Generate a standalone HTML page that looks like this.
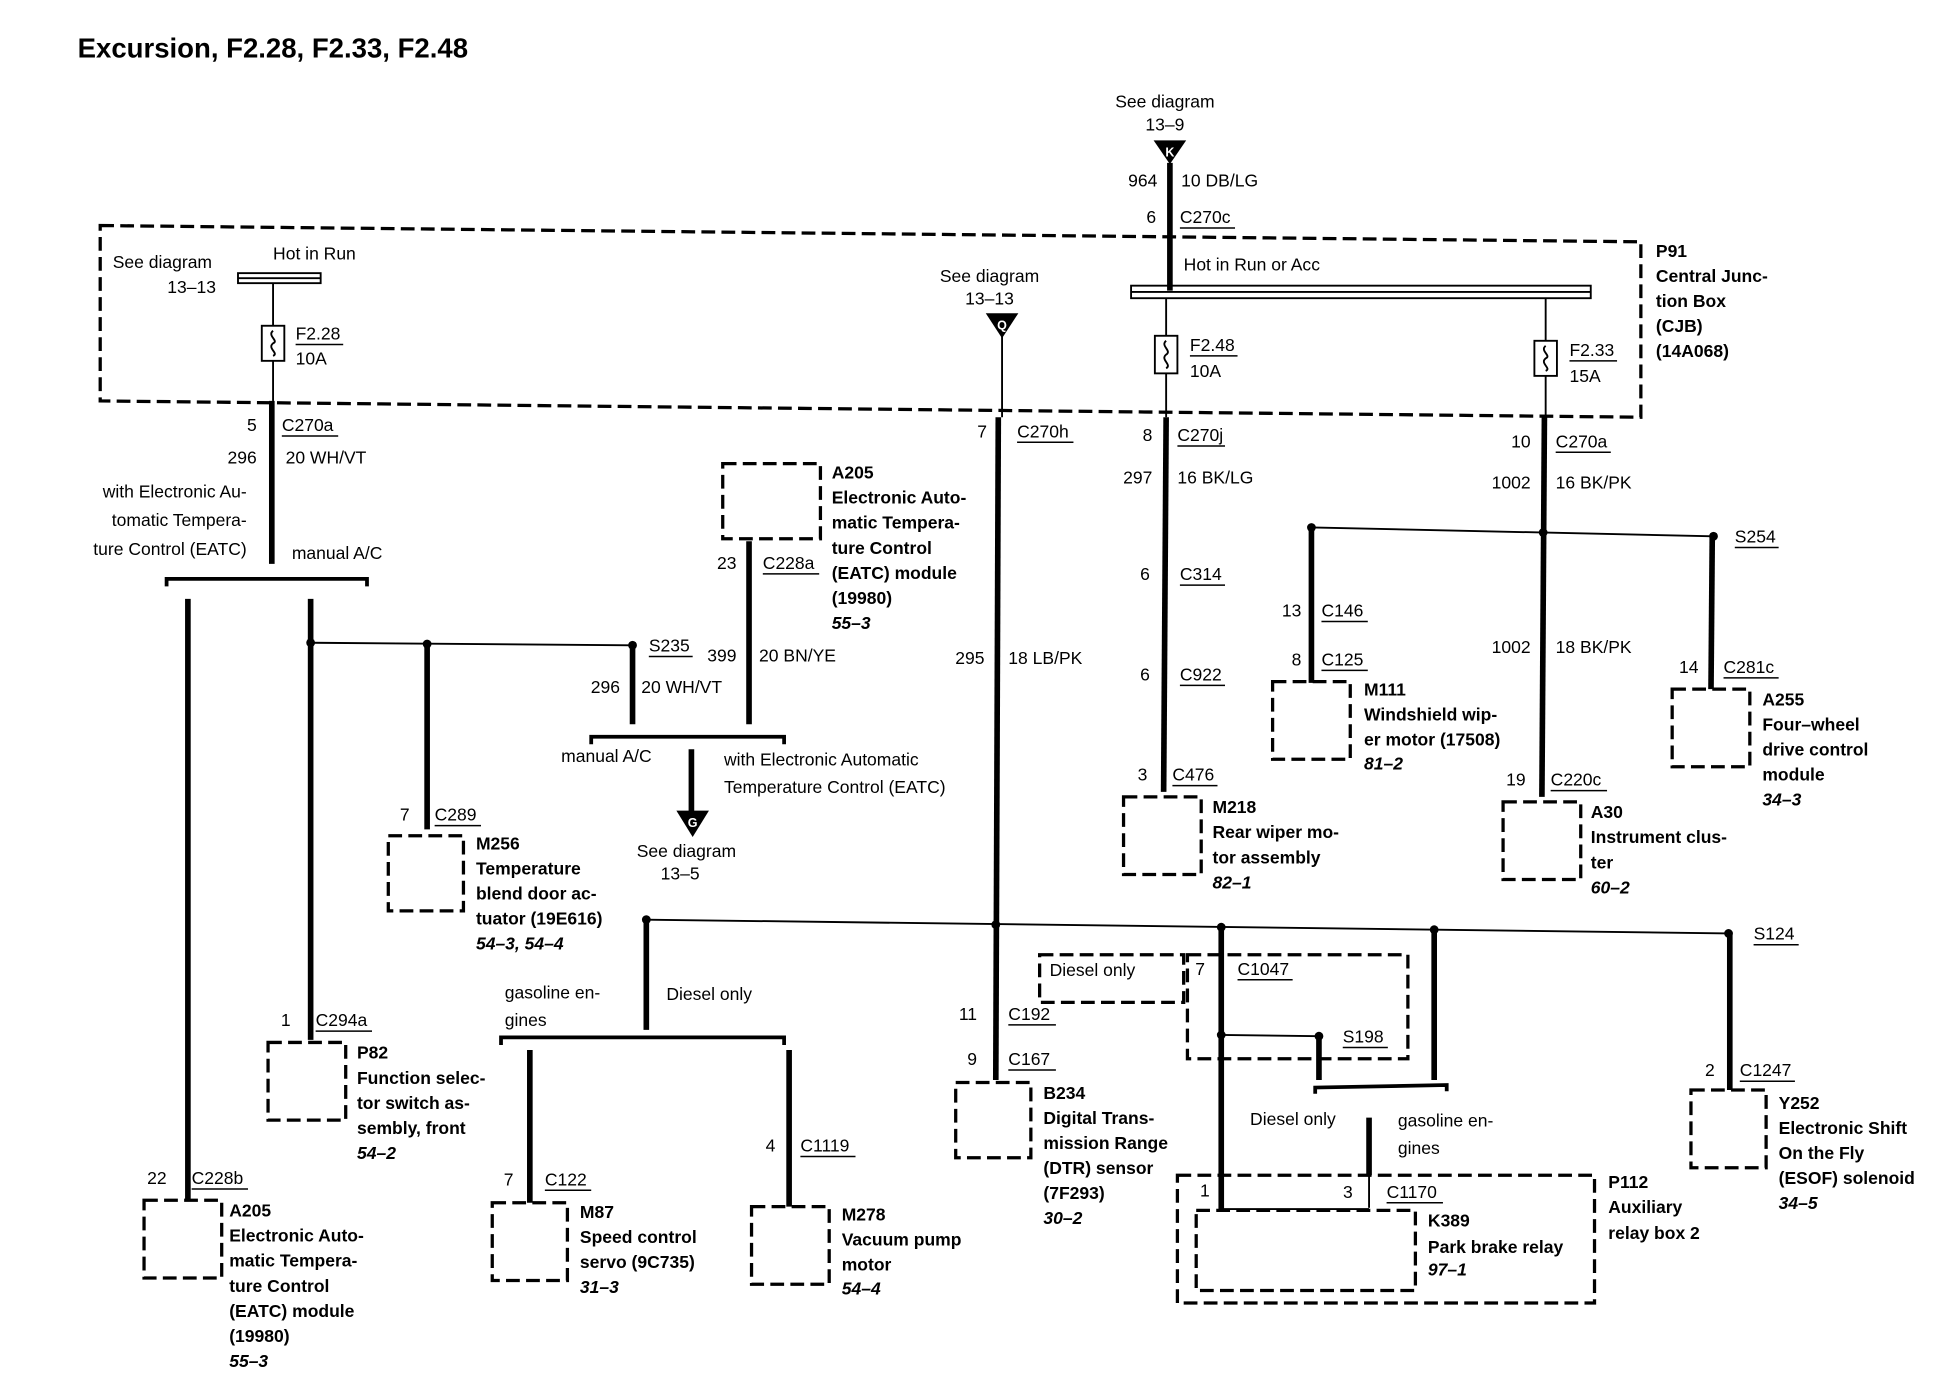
<!DOCTYPE html>
<html><head><meta charset="utf-8"><style>
html,body{margin:0;padding:0;background:#fff}
svg{display:block}
text{font-family:"Liberation Sans",sans-serif;font-size:14px;fill:#000}
.b{font-weight:bold}
.i{font-weight:bold;font-style:italic}
.w{stroke:#000;stroke-width:4.5;fill:none}
.t{stroke:#000;stroke-width:1.5;fill:none}
.d{stroke:#000;stroke-width:2.6;fill:none;stroke-dasharray:11 5}
.u{stroke:#000;stroke-width:1.2}
</style></head><body>
<svg width="1954" height="1392" viewBox="0 0 1560 1111" preserveAspectRatio="none" xmlns="http://www.w3.org/2000/svg">
<text x="62" y="46" class="b" style="font-size:22px">Excursion, F2.28, F2.33, F2.48</text>

<!-- CJB box -->
<polygon points="80,180 1310,193 1310,333 80,320" class="d"/>
<text x="1322" y="205" class="b">P91</text>
<text x="1322" y="225" class="b">Central Junc-</text>
<text x="1322" y="245" class="b">tion Box</text>
<text x="1322" y="265" class="b">(CJB)</text>
<text x="1322" y="285" class="b">(14A068)</text>

<!-- top feed -->
<text x="930" y="86" text-anchor="middle">See diagram</text>
<text x="930" y="104" text-anchor="middle">13–9</text>
<polygon points="921,112 947,112 934,131" fill="#000"/>
<text x="934" y="125" text-anchor="middle" style="font-size:10px;fill:#fff" class="b">K</text>
<line x1="934" y1="130" x2="934" y2="232" class="w"/>
<text x="924" y="149" text-anchor="end">964</text><text x="943" y="149">10 DB/LG</text>
<text x="923" y="178" text-anchor="end">6</text><text x="942" y="178">C270c</text><line x1="942" y1="182" x2="986" y2="182" class="u"/>
<text x="945" y="216">Hot in Run or Acc</text>
<rect x="903" y="228" width="367" height="10" class="t"/><line x1="903" y1="233" x2="1270" y2="233" class="t"/>
<line x1="931" y1="238" x2="931" y2="268" class="t"/><line x1="931" y1="298" x2="931" y2="333" class="t"/>
<rect x="922" y="268" width="18" height="30" class="t" fill="#fff"/><path d="M931,272 c-5,4 5,8 0,11 c-5,4 5,8 0,11" class="t"/>
<text x="950" y="280">F2.48</text><line x1="950" y1="284" x2="988" y2="284" class="u"/><text x="950" y="301">10A</text>
<line x1="1234" y1="238" x2="1234" y2="272" class="t"/><line x1="1234" y1="300" x2="1234" y2="333" class="t"/>
<rect x="1225" y="272" width="18" height="28" class="t" fill="#fff"/><path d="M1234,276 c-5,4 5,8 0,10 c-5,4 5,8 0,10" class="t"/>
<text x="1253" y="284">F2.33</text><line x1="1253" y1="288" x2="1291" y2="288" class="u"/><text x="1253" y="305">15A</text>

<!-- left fuse -->
<text x="90" y="214">See diagram</text><text x="153" y="234" text-anchor="middle">13–13</text>
<text x="218" y="207">Hot in Run</text>
<rect x="190" y="218" width="66" height="8" class="t"/><line x1="190" y1="222" x2="256" y2="222" class="t"/>
<line x1="218" y1="226" x2="218" y2="260" class="t"/><line x1="218" y1="288" x2="218" y2="320" class="t"/>
<rect x="209" y="260" width="18" height="28" class="t" fill="#fff"/><path d="M218,264 c-5,4 5,8 0,10 c-5,4 5,8 0,10" class="t"/>
<text x="236" y="271">F2.28</text><line x1="236" y1="275" x2="274" y2="275" class="u"/><text x="236" y="291">10A</text>

<text x="790" y="225" text-anchor="middle">See diagram</text><text x="790" y="243" text-anchor="middle">13–13</text>
<polygon points="787,250 813,250 800,270" fill="#000"/>
<text x="800" y="263" text-anchor="middle" style="font-size:10px;fill:#fff" class="b">Q</text>
<line x1="800" y1="268" x2="800" y2="333" class="t"/>

<!-- wire 217 -->
<line x1="217" y1="320" x2="217" y2="450" class="w"/>
<text x="205" y="344" text-anchor="end">5</text><text x="225" y="344">C270a</text><line x1="225" y1="348" x2="270" y2="348" class="u"/>
<text x="205" y="370" text-anchor="end">296</text><text x="228" y="370">20 WH/VT</text>
<text x="197" y="397" text-anchor="end">with Electronic Au-</text>
<text x="197" y="420" text-anchor="end">tomatic Tempera-</text>
<text x="197" y="443" text-anchor="end">ture Control (EATC)</text>
<text x="233" y="446">manual A/C</text>
<path d="M133,468 L133,462 L293,462 L293,468" class="w" style="stroke-width:3"/>
<line x1="150" y1="478" x2="150" y2="958" class="w"/>
<line x1="248" y1="478" x2="248" y2="830" class="w"/>
<text x="133" y="945" text-anchor="end">22</text><text x="153" y="945">C228b</text><line x1="153" y1="949" x2="198" y2="949" class="u"/>
<text x="232" y="819" text-anchor="end">1</text><text x="252" y="819">C294a</text><line x1="252" y1="823" x2="297" y2="823" class="u"/>
<line x1="248" y1="513" x2="505" y2="515" class="t"/>
<circle cx="248" cy="513" r="3.5"/><circle cx="341" cy="514" r="3.5"/><circle cx="505" cy="515" r="3.5"/>
<text x="518" y="520">S235</text><line x1="518" y1="524" x2="553" y2="524" class="u"/>
<line x1="341" y1="514" x2="341" y2="662" class="w"/>
<text x="327" y="655" text-anchor="end">7</text><text x="347" y="655">C289</text><line x1="347" y1="659" x2="384" y2="659" class="u"/>
<rect x="310" y="667" width="60" height="60" class="d"/>
<text x="380" y="678" class="b">M256</text><text x="380" y="698" class="b">Temperature</text><text x="380" y="718" class="b">blend door ac-</text><text x="380" y="738" class="b">tuator (19E616)</text><text x="380" y="758" class="i">54–3, 54–4</text>
<line x1="505" y1="515" x2="505" y2="578" class="w"/>
<text x="495" y="553" text-anchor="end">296</text><text x="512" y="553">20 WH/VT</text>
<line x1="598" y1="432" x2="598" y2="578" class="w"/>
<text x="588" y="454" text-anchor="end">23</text><text x="609" y="454">C228a</text><line x1="609" y1="458" x2="654" y2="458" class="u"/>
<text x="588" y="528" text-anchor="end">399</text><text x="606" y="528">20 BN/YE</text>
<rect x="577" y="370" width="78" height="60" class="d"/>
<text x="664" y="382" class="b">A205</text><text x="664" y="402" class="b">Electronic Auto-</text><text x="664" y="422" class="b">matic Tempera-</text><text x="664" y="442" class="b">ture Control</text><text x="664" y="462" class="b">(EATC) module</text><text x="664" y="482" class="b">(19980)</text><text x="664" y="502" class="i">55–3</text>
<path d="M472,594 L472,588 L626,588 L626,594" class="w" style="stroke-width:3"/>
<text x="448" y="608">manual A/C</text>
<text x="578" y="611">with Electronic Automatic</text><text x="578" y="633">Temperature Control (EATC)</text>
<line x1="552" y1="598" x2="552" y2="648" class="w"/>
<polygon points="540,647 566,647 553,668" fill="#000"/>
<text x="553" y="660" text-anchor="middle" style="font-size:10px;fill:#fff" class="b">G</text>
<text x="548" y="684" text-anchor="middle">See diagram</text><text x="543" y="702" text-anchor="middle">13–5</text>

<!-- wire 800 -->
<line x1="797" y1="333" x2="795" y2="862" class="w"/>
<text x="788" y="349" text-anchor="end">7</text><text x="812" y="349">C270h</text><line x1="812" y1="353" x2="857" y2="353" class="u"/>
<text x="786" y="530" text-anchor="end">295</text><text x="805" y="530">18 LB/PK</text>
<text x="780" y="814" text-anchor="end">11</text><text x="805" y="814">C192</text><line x1="805" y1="818" x2="843" y2="818" class="u"/>
<text x="780" y="850" text-anchor="end">9</text><text x="805" y="850">C167</text><line x1="805" y1="854" x2="843" y2="854" class="u"/>
<rect x="763" y="864" width="60" height="60" class="d"/>
<text x="833" y="877" class="b">B234</text><text x="833" y="897" class="b">Digital Trans-</text><text x="833" y="917" class="b">mission Range</text><text x="833" y="937" class="b">(DTR) sensor</text><text x="833" y="957" class="b">(7F293)</text><text x="833" y="977" class="i">30–2</text>

<!-- splice line 736 -->
<line x1="516" y1="734" x2="1380" y2="745" class="t"/>
<circle cx="516" cy="734" r="3.5"/><circle cx="795" cy="738" r="3.5"/><circle cx="975" cy="740" r="3.5"/><circle cx="1145" cy="742" r="3.5"/><circle cx="1380" cy="745" r="3.5"/>
<text x="1400" y="750">S124</text><line x1="1400" y1="754" x2="1436" y2="754" class="u"/>
<line x1="516" y1="734" x2="516" y2="822" class="w"/>
<text x="403" y="797">gasoline en-</text><text x="403" y="819">gines</text><text x="532" y="798">Diesel only</text>
<path d="M400,834 L400,828 L626,828 L626,834" class="w" style="stroke-width:3"/>
<line x1="423" y1="838" x2="423" y2="960" class="w"/>
<line x1="630" y1="838" x2="630" y2="963" class="w"/>
<text x="410" y="946" text-anchor="end">7</text><text x="435" y="946">C122</text><line x1="435" y1="950" x2="472" y2="950" class="u"/>
<text x="619" y="919" text-anchor="end">4</text><text x="639" y="919">C1119</text><line x1="639" y1="923" x2="683" y2="923" class="u"/>
<rect x="393" y="960" width="60" height="62" class="d"/>
<text x="463" y="972" class="b">M87</text><text x="463" y="992" class="b">Speed control</text><text x="463" y="1012" class="b">servo (9C735)</text><text x="463" y="1032" class="i">31–3</text>
<rect x="600" y="963" width="62" height="62" class="d"/>
<text x="672" y="974" class="b">M278</text><text x="672" y="994" class="b">Vacuum pump</text><text x="672" y="1014" class="b">motor</text><text x="672" y="1033" class="i">54–4</text>
<rect x="115" y="958" width="62" height="62" class="d"/>
<text x="183" y="971" class="b">A205</text><text x="183" y="991" class="b">Electronic Auto-</text><text x="183" y="1011" class="b">matic Tempera-</text><text x="183" y="1031" class="b">ture Control</text><text x="183" y="1051" class="b">(EATC) module</text><text x="183" y="1071" class="b">(19980)</text><text x="183" y="1091" class="i">55–3</text>
<rect x="214" y="832" width="62" height="62" class="d"/>
<text x="285" y="845" class="b">P82</text><text x="285" y="865" class="b">Function selec-</text><text x="285" y="885" class="b">tor switch as-</text><text x="285" y="905" class="b">sembly, front</text><text x="285" y="925" class="i">54–2</text>

<!-- wire 931 -->
<line x1="931" y1="333" x2="929" y2="632" class="w"/>
<text x="920" y="352" text-anchor="end">8</text><text x="940" y="352">C270j</text><line x1="940" y1="356" x2="978" y2="356" class="u"/>
<text x="920" y="386" text-anchor="end">297</text><text x="940" y="386">16 BK/LG</text>
<text x="918" y="463" text-anchor="end">6</text><text x="942" y="463">C314</text><line x1="942" y1="467" x2="978" y2="467" class="u"/>
<text x="918" y="543" text-anchor="end">6</text><text x="942" y="543">C922</text><line x1="942" y1="547" x2="978" y2="547" class="u"/>
<text x="916" y="623" text-anchor="end">3</text><text x="936" y="623">C476</text><line x1="936" y1="627" x2="972" y2="627" class="u"/>
<rect x="897" y="636" width="62" height="62" class="d"/>
<text x="968" y="649" class="b">M218</text><text x="968" y="669" class="b">Rear wiper mo-</text><text x="968" y="689" class="b">tor assembly</text><text x="968" y="709" class="i">82–1</text>

<!-- wire 1232 -->
<line x1="1233" y1="333" x2="1231" y2="636" class="w"/>
<text x="1222" y="357" text-anchor="end">10</text><text x="1242" y="357">C270a</text><line x1="1242" y1="361" x2="1286" y2="361" class="u"/>
<text x="1222" y="390" text-anchor="end">1002</text><text x="1242" y="390">16 BK/PK</text>
<text x="1222" y="521" text-anchor="end">1002</text><text x="1242" y="521">18 BK/PK</text>
<text x="1218" y="627" text-anchor="end">19</text><text x="1238" y="627">C220c</text><line x1="1238" y1="631" x2="1283" y2="631" class="u"/>
<rect x="1200" y="640" width="62" height="62" class="d"/>
<text x="1270" y="653" class="b">A30</text><text x="1270" y="673" class="b">Instrument clus-</text><text x="1270" y="693" class="b">ter</text><text x="1270" y="713" class="i">60–2</text>
<line x1="1047" y1="421" x2="1368" y2="428" class="t"/>
<circle cx="1047" cy="421" r="3.5"/><circle cx="1232" cy="425" r="3.5"/><circle cx="1368" cy="428" r="3.5"/>
<text x="1385" y="433">S254</text><line x1="1385" y1="437" x2="1420" y2="437" class="u"/>
<line x1="1047" y1="421" x2="1047" y2="545" class="w"/>
<text x="1039" y="492" text-anchor="end">13</text><text x="1055" y="492">C146</text><line x1="1055" y1="496" x2="1092" y2="496" class="u"/>
<text x="1039" y="531" text-anchor="end">8</text><text x="1055" y="531">C125</text><line x1="1055" y1="535" x2="1092" y2="535" class="u"/>
<rect x="1016" y="544" width="62" height="62" class="d"/>
<text x="1089" y="555" class="b">M111</text><text x="1089" y="575" class="b">Windshield wip-</text><text x="1089" y="595" class="b">er motor (17508)</text><text x="1089" y="614" class="i">81–2</text>
<line x1="1367" y1="428" x2="1366" y2="550" class="w"/>
<text x="1356" y="537" text-anchor="end">14</text><text x="1376" y="537">C281c</text><line x1="1376" y1="541" x2="1420" y2="541" class="u"/>
<rect x="1335" y="550" width="62" height="62" class="d"/>
<text x="1407" y="563" class="b">A255</text><text x="1407" y="583" class="b">Four–wheel</text><text x="1407" y="603" class="b">drive control</text><text x="1407" y="623" class="b">module</text><text x="1407" y="643" class="i">34–3</text>
<line x1="1381" y1="745" x2="1381" y2="870" class="w"/>
<text x="1369" y="859" text-anchor="end">2</text><text x="1389" y="859">C1247</text><line x1="1389" y1="863" x2="1433" y2="863" class="u"/>
<rect x="1350" y="870" width="60" height="62" class="d"/>
<text x="1420" y="885" class="b">Y252</text><text x="1420" y="905" class="b">Electronic Shift</text><text x="1420" y="925" class="b">On the Fly</text><text x="1420" y="945" class="b">(ESOF) solenoid</text><text x="1420" y="965" class="i">34–5</text>

<!-- diesel section -->
<rect x="830" y="762" width="115" height="38" class="d"/>
<text x="838" y="779">Diesel only</text>
<rect x="948" y="762" width="176" height="83" class="d"/>
<line x1="975" y1="740" x2="975" y2="965" class="w"/>
<text x="962" y="778" text-anchor="end">7</text><text x="988" y="778">C1047</text><line x1="988" y1="782" x2="1032" y2="782" class="u"/>
<line x1="975" y1="826" x2="1053" y2="827" class="t"/>
<circle cx="975" cy="826" r="3.5"/><circle cx="1053" cy="827" r="3.5"/>
<text x="1072" y="832">S198</text><line x1="1072" y1="836" x2="1108" y2="836" class="u"/>
<line x1="1053" y1="827" x2="1053" y2="862" class="w"/>
<line x1="1145" y1="742" x2="1145" y2="862" class="w"/>
<path d="M1050,873 L1050,868 L1155,866 L1155,871" class="w" style="stroke-width:3"/>
<text x="998" y="898">Diesel only</text><text x="1116" y="899">gasoline en-</text><text x="1116" y="921">gines</text>
<line x1="1093" y1="892" x2="1093" y2="938" class="w"/>
<line x1="1093" y1="938" x2="1093" y2="964" class="t"/>
<rect x="940" y="938" width="333" height="102" class="d"/>
<rect x="955" y="966" width="175" height="64" class="d"/>
<line x1="975" y1="965" x2="1093" y2="965" class="t"/>
<text x="958" y="955">1</text><text x="1080" y="956" text-anchor="end">3</text><text x="1107" y="956">C1170</text><line x1="1107" y1="960" x2="1152" y2="960" class="u"/>
<text x="1140" y="979" class="b">K389</text><text x="1140" y="1000" class="b">Park brake relay</text><text x="1140" y="1018" class="i">97–1</text>
<text x="1284" y="948" class="b">P112</text><text x="1284" y="968" class="b">Auxiliary</text><text x="1284" y="989" class="b">relay box 2</text>
</svg>
</body></html>
